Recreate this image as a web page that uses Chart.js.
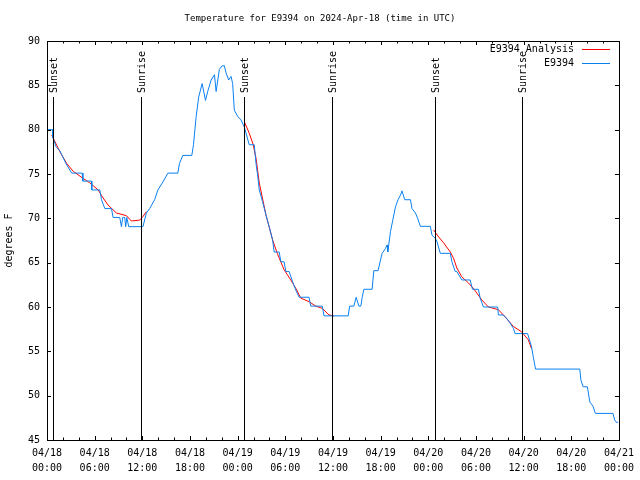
<!DOCTYPE html>
<html>
<head>
<meta charset="utf-8">
<script src="https://cdn.jsdelivr.net/npm/chart.js@4/dist/chart.umd.min.js"></script>
<style>
  html, body { margin: 0; padding: 0; background: #fff; }
  #wrap { width: 640px; height: 480px; }
</style>
</head>
<body>
<div id="wrap"><canvas id="mycanvas" width="640" height="480"></canvas></div>
<script>
// hours since 04/18 00:00 UTC
var obsHours = [0, 0.72, 0.75, 1.13, 1.63, 1.97, 2.38, 3.10, 4.43, 4.52, 5.61, 5.64, 6.65, 6.86, 7.28, 8.12, 8.32, 9.16,
  9.37, 9.53, 9.78, 9.91, 10.04, 10.29, 12.08, 12.51, 12.92, 13.55, 13.96, 14.59, 15.22, 16.47, 16.68, 17.10, 18.23,
  18.44, 18.78, 19.10, 19.53, 19.95, 20.23, 20.66, 21.08, 21.29, 21.70, 22.04, 22.33, 22.54, 22.87, 23.17, 23.37,
  23.58, 24.00, 24.42, 24.84, 25.09, 25.46, 26.09, 26.31, 26.51, 26.72, 27.13, 27.56, 27.97, 28.39, 28.60, 29.23,
  29.44, 29.85, 30.07, 30.48, 30.90, 31.32, 31.74, 32.99, 33.20, 34.66, 34.87, 37.92, 38.10, 38.63, 38.92, 39.26,
  39.51, 39.68, 39.89, 40.93, 41.14, 41.68, 41.98, 42.19, 42.61, 42.81, 42.90, 43.24, 43.53, 43.87, 44.19, 44.49,
  44.69, 45.03, 45.75, 45.95, 46.38, 46.66, 47.00, 48.26, 48.46, 48.88, 49.08, 49.51, 50.77, 50.97, 51.39, 51.59,
  52.22, 53.27, 53.56, 54.31, 54.53, 54.94, 56.74, 56.82, 57.45, 57.87, 58.29, 58.71, 58.92, 60.50, 60.80, 61.00,
  61.21, 61.50, 67.07, 67.20, 67.49, 68.03, 68.33, 68.74, 69.03, 71.25, 71.46, 71.66, 71.88];
var obsTemps = [80, 80, 79.1, 78.1, 77.6, 76.95, 76.2, 75.1, 75.1, 74.2, 74.2, 73.2, 73.2, 72.1, 71.1, 71.1, 70.1, 70.1,
  69.06, 70.1, 70.1, 69.06, 70.1, 69.06, 69.06, 70.6, 71.1, 72.1, 73.2, 74.1, 75.1, 75.1, 76.2, 77.1, 77.1,
  78.3, 81.5, 83.7, 85.2, 83.3, 84.3, 85.6, 86.2, 84.3, 86.8, 87.2, 87.2, 86.4, 85.6, 86.0, 85.2,
  82.2, 81.5, 81.1, 80.3, 79.5, 78.3, 78.3, 76.2, 74.9, 73.2, 71.9, 70.4, 69.06, 67.6, 66.2, 66.2,
  65.1, 65.1, 64.0, 64.0, 62.9, 61.9, 61.1, 61.1, 60.1, 60.1, 59.0, 59.0, 60.1, 60.1, 61.1, 60.1,
  60.1, 61.1, 62.0, 62.0, 64.1, 64.1, 65.3, 66.05, 66.6, 67.0, 66.2, 68.5, 69.8, 71.3, 72.1, 72.6,
  73.1, 72.1, 72.1, 71.1, 70.6, 70.0, 69.1, 69.1, 68.1, 67.75, 67.4, 66.05, 66.05, 65.1, 64.0, 64.0,
  63.05, 63.05, 62.0, 62.0, 61.0, 60.0, 60.0, 59.1, 59.1, 58.7, 58.2, 57.6, 57.0, 57.0, 56.1, 55.5,
  54.4, 53.0, 53.0, 51.8, 51.0, 51.0, 49.3, 48.8, 48.0, 48.0, 47.25, 47.0, 47.0];

// analysis runs, one per night (null = gap)
var anaHours = [0.59, 1.63, 2.47, 3.30, 4.55, 5.39, 6.44, 7.06, 7.69, 8.74, 10.00, 10.62, 11.67, 12.08, 12.51, 18,
  24.84, 25.46, 25.96, 26.31, 26.72, 27.56, 28.39, 29.01, 29.85, 30.69, 31.32, 31.95, 32.99, 33.83, 34.66, 35.50, 36.12, 42,
  48.67, 49.30, 49.92, 50.77, 51.18, 51.59, 52.22, 53.06, 53.68, 54.73, 55.57, 56.82, 57.66, 58.71, 59.75, 60.59, 61.00];
var anaTemps = [79.4, 77.5, 76.2, 75.3, 74.5, 74.0, 73.2, 72.3, 71.5, 70.6, 70.3, 69.7, 69.8, 70.2, 70.75, null,
  80.9, 79.6, 78.3, 76.8, 74.0, 70.4, 67.6, 66.0, 64.2, 63.05, 62.1, 61.0, 60.6, 60.1, 59.85, 59.1, 59.0, null,
  68.7, 67.9, 67.25, 66.2, 65.5, 64.4, 63.4, 62.7, 62.1, 60.8, 60.0, 59.7, 58.9, 57.8, 57.2, 56.3, 55.3];

var sunNames = ['Sunset', 'Sunrise', 'Sunset', 'Sunrise', 'Sunset', 'Sunrise'];
var sunHours = [0.75, 11.8, 24.85, 35.9, 48.9, 59.8];

var dayLabels = ['04/18', '04/18', '04/18', '04/18', '04/19', '04/19', '04/19', '04/19', '04/20', '04/20', '04/20', '04/20', '04/21'];
var timeLabels = ['00:00', '06:00', '12:00', '18:00'];

var FONT = '"DejaVu Sans Mono", "Liberation Mono", monospace';

function pts(xs, ys) {
  var out = [];
  for (var i = 0; i < xs.length; i++) out.push({x: xs[i], y: ys[i]});
  return out;
}

var gnuplotBits = {
  id: 'gnuplotBits',
  afterDatasetsDraw: function(chart) {
    var ctx = chart.ctx, a = chart.chartArea;
    var xs = chart.scales.x, ys = chart.scales.y;
    ctx.save();
    ctx.strokeStyle = '#000';
    ctx.lineWidth = 1;
    ctx.beginPath();
    // x ticks every 2h, longer every 6h, on bottom and top
    for (var h = 0; h <= 72; h += 2) {
      var px = Math.round(xs.getPixelForValue(h)) + 0.5;
      var len = (h % 6 === 0) ? 4 : 2.5;
      ctx.moveTo(px, a.bottom); ctx.lineTo(px, a.bottom - len);
      ctx.moveTo(px, a.top); ctx.lineTo(px, a.top + len);
    }
    // y ticks on left and right
    for (var v = 45; v <= 90; v += 5) {
      var py = Math.round(ys.getPixelForValue(v)) + 0.5;
      ctx.moveTo(a.left, py); ctx.lineTo(a.left + 4, py);
      ctx.moveTo(a.right, py); ctx.lineTo(a.right - 4, py);
    }
    ctx.stroke();
    // sunrise / sunset
    ctx.beginPath();
    for (var i = 0; i < sunHours.length; i++) {
      var sx = Math.round(xs.getPixelForValue(sunHours[i])) + 0.5;
      ctx.moveTo(sx, 97); ctx.lineTo(sx, a.bottom);
    }
    ctx.stroke();
    ctx.fillStyle = '#000';
    ctx.font = '10px ' + FONT;
    ctx.textBaseline = 'middle';
    ctx.textAlign = 'left';
    for (var j = 0; j < sunHours.length; j++) {
      var tx = Math.round(xs.getPixelForValue(sunHours[j])) + 1;
      ctx.save();
      ctx.translate(tx, 93);
      ctx.rotate(-Math.PI / 2);
      ctx.fillText(sunNames[j], 0, 0);
      ctx.restore();
    }
    // frame
    ctx.strokeRect(Math.round(a.left) + 0.5, Math.round(a.top) + 0.5, Math.round(a.right - a.left), Math.round(a.bottom - a.top));
    // legend
    ctx.textAlign = 'right';
    ctx.fillText('E9394 Analysis', 574, 49);
    ctx.fillText('E9394', 574, 63);
    ctx.lineWidth = 1;
    ctx.strokeStyle = '#ff0000';
    ctx.beginPath(); ctx.moveTo(582, 49.5); ctx.lineTo(610, 49.5); ctx.stroke();
    ctx.strokeStyle = '#0a80f0';
    ctx.beginPath(); ctx.moveTo(582, 63.5); ctx.lineTo(610, 63.5); ctx.stroke();
    // title
    ctx.fillStyle = '#000';
    ctx.textAlign = 'center';
    ctx.font = '9px ' + FONT;
    ctx.fillText('Temperature for E9394 on 2024-Apr-18 (time in UTC)', 320, 19);
    ctx.restore();
  }
};

var ctx = document.getElementById('mycanvas');
var chart = new Chart(ctx, {
  type: 'line',
  data: {
    datasets: [
      {
        label: 'E9394 Analysis',
        data: pts(anaHours, anaTemps),
        borderColor: '#ff0000',
        borderWidth: 1,
        pointRadius: 0,
        spanGaps: false,
        order: 2
      },
      {
        label: 'E9394',
        data: pts(obsHours, obsTemps),
        borderColor: '#0a80f0',
        borderWidth: 1,
        pointRadius: 0,
        order: 1
      }
    ]
  },
  plugins: [gnuplotBits],
  options: {
    responsive: false,
    animation: false,
    layout: { padding: { top: 41, right: 19, left: 0, bottom: 0 } },
    plugins: { legend: { display: false }, tooltip: { enabled: false }, title: { display: false } },
    scales: {
      x: {
        type: 'linear',
        min: 0, max: 72,
        grid: { display: false, drawTicks: false },
        border: { display: false },
        ticks: {
          stepSize: 6,
          autoSkip: false,
          maxRotation: 0,
          padding: 6,
          color: '#000',
          font: { family: FONT, size: 10, lineHeight: 1.5 },
          callback: function(value) {
            var k = Math.round(value / 6);
            return [dayLabels[k], timeLabels[k % 4]];
          }
        },
        afterFit: function(s) { s.height = 40; }
      },
      y: {
        min: 45, max: 90,
        grid: { display: false, drawTicks: false },
        border: { display: false },
        ticks: {
          stepSize: 5,
          padding: 7,
          color: '#000',
          font: { family: FONT, size: 10 }
        },
        title: {
          display: true,
          text: 'degrees F',
          color: '#000',
          font: { family: FONT, size: 10 },
          padding: { top: 3, bottom: 0 }
        },
        afterFit: function(s) { s.width = 47; }
      }
    }
  }
});
</script>
</body>
</html>
